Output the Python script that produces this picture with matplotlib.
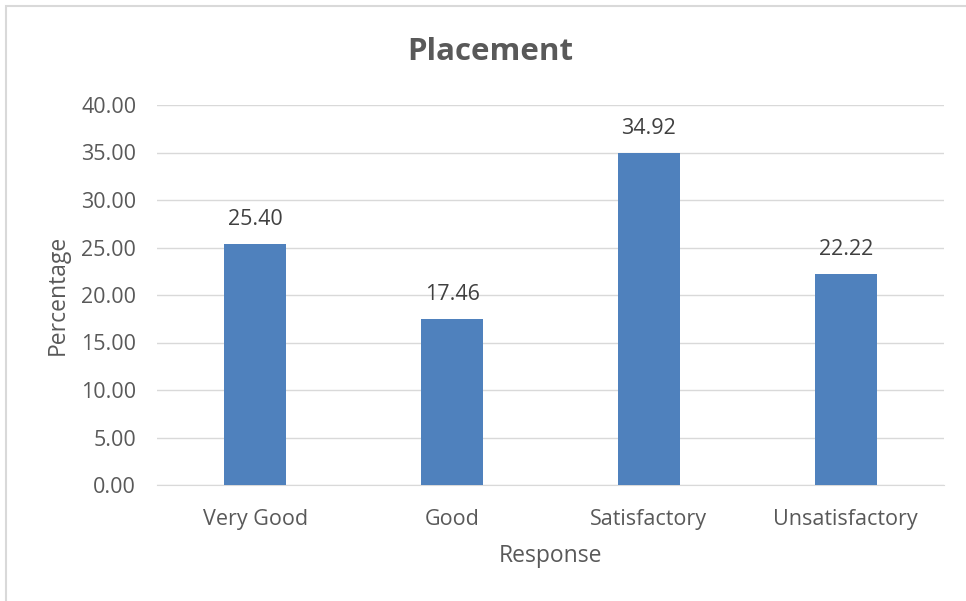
import matplotlib
matplotlib.use("Agg")
import matplotlib.pyplot as plt
from matplotlib.patches import Rectangle

categories = ["Very Good", "Good", "Satisfactory", "Unsatisfactory"]
values = [25.40, 17.46, 34.92, 22.22]
yticks = [0, 5, 10, 15, 20, 25, 30, 35, 40]

plt.rcParams['font.family'] = ['Open Sans', 'DejaVu Sans']

W, H = 966, 601
fig = plt.figure(figsize=(W/100, H/100), dpi=100)
fig.patches.append(Rectangle((6/W, -0.1), 1.2, 1 - 5.5/H + 0.1, transform=fig.transFigure,
                             fill=False, edgecolor="#D9D9D9", linewidth=1.5))

ax = fig.add_axes([157/W, 1 - 485/H, (944-157)/W, (485-105)/H])
x = range(len(categories))
ax.bar(x, values, width=0.315, color="#4F81BD", zorder=3)
ax.set_xlim(-0.5, 3.5)
ax.set_ylim(0, 40)
ax.set_yticks(yticks)
ax.set_yticklabels([f"{v:.2f}" for v in yticks])
ax.set_xticks(list(x))
ax.set_xticklabels(categories)
ax.grid(axis="y", color="#D9D9D9", linewidth=1, zorder=0)
for s in ["top", "right", "left"]:
    ax.spines[s].set_visible(False)
ax.spines["bottom"].set_color("#D9D9D9")
ax.tick_params(axis="both", length=0, labelsize=15.5, colors="#595959")
ax.tick_params(axis="y", pad=15)
ax.tick_params(axis="x", pad=17)
for xi, v in zip(x, values):
    ax.annotate(f"{v:.2f}", (xi, v), xytext=(0, 10), textcoords="offset points",
                ha="center", va="bottom", fontsize=15.5, color="#404040")
ax.set_xlabel("Response", fontsize=16.5, color="#595959", labelpad=10)
ax.set_ylabel("Percentage", fontsize=16.5, color="#595959", labelpad=8)
fig.text(490/W, 1 - 52/H, "Placement", ha="center", va="center", fontsize=22.5,
         fontweight="bold", color="#595959")

fig.savefig("out.png", dpi=100)
